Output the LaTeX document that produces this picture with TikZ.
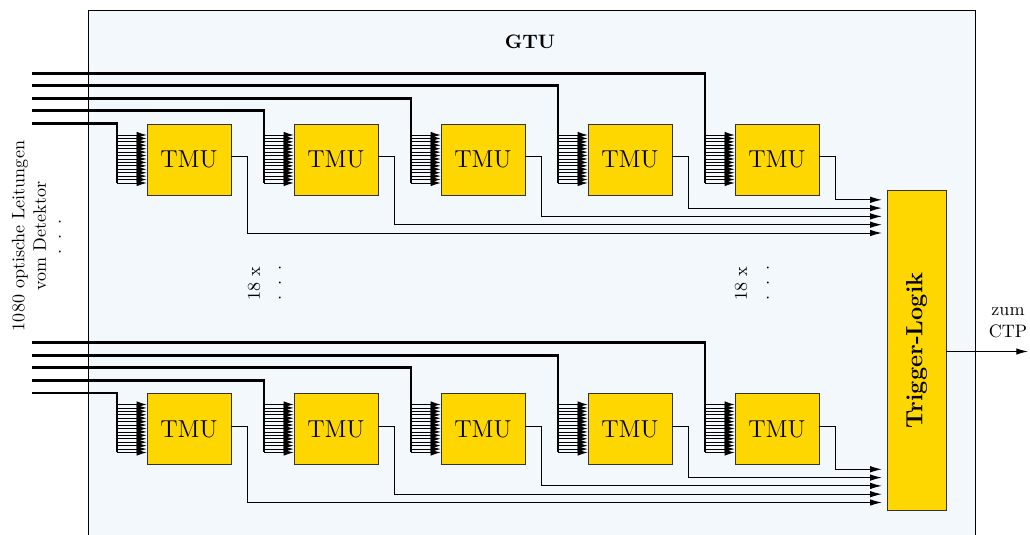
\documentclass[tikz,border=0pt]{standalone}
\usetikzlibrary{arrows.meta}
\newdimen\pxu \pxu=0.555pt
\definecolor{gtublue}{HTML}{F3F8FC}
\definecolor{tmugold}{HTML}{FFD700}
\tikzset{
  gtubox/.style={draw=black, line width=0.6pt, fill=gtublue, inner sep=0pt},
  tmubox/.style={draw=black!80, line width=0.5pt, fill=tmugold, inner sep=0pt,
    minimum width=84\pxu, minimum height=71\pxu, font=\fontsize{13.6}{16}\selectfont},
  trigbox/.style={draw=black!80, line width=0.5pt, fill=tmugold, inner sep=0pt,
    minimum width=59\pxu, minimum height=320\pxu},
  fibre/.style={line width=1.6pt, line join=miter},
  fan/.style={line width=0.45pt, -{Latex[length=5.5pt,width=3.6pt]}},
  outline/.style={line width=0.55pt, -{Latex[length=6.5pt,width=3.6pt]}, shorten >=2.6pt},
  ctpline/.style={line width=0.55pt, -{Latex[length=6.5pt,width=3.6pt]}},
  note/.style={inner sep=0pt, align=center}
}
\begin{document}
\begin{tikzpicture}[x=0.555pt, y={(0,-0.555pt)}]
\useasboundingbox (0,0) rectangle (1030,535);
\clip (0,0) rectangle (1030,535);

% GTU frame
\node[gtubox, anchor=north west, minimum width=887\pxu, minimum height=545\pxu] (gtu) at (88,10) {};
\node[note, font=\fontsize{10.8}{13}\selectfont\bfseries] (gtulabel) at (530,42) {GTU};

% Trigger logic
\node[trigbox] (trig) at (916.5,350.5) {};
\node[note, rotate=90, font=\fontsize{13}{16}\selectfont\bfseries] (triglabel) at (trig.center) {Trigger-Logik};
\coordinate (ctp) at (1028,351.5);
\draw[ctpline] (trig.east |- ctp) -- (ctp);
\node[note] (ctplabel) at (1008,323) {zum\\CTP};

% two rows of five TMUs
\foreach \r/\yo in {0/0,1/269.5} {
  \foreach \c in {0,...,4} {
    \pgfmathsetmacro{\xl}{147+147*\c}
    \pgfmathsetmacro{\xv}{\xl-30}
    \pgfmathsetmacro{\xo}{\xl+84+16}
    \pgfmathsetmacro{\yin}{123.5-12.6*\c+\yo}
    \pgfmathsetmacro{\yout}{233-8.3*\c+\yo}
    \pgfmathsetmacro{\yc}{159.5+\yo}
    \pgfmathsetmacro{\yfb}{183+\yo}
    \node[tmubox] (tmu-\r-\c) at (\xl+42,\yc) {TMU};
    % optical fibre bundle entering the TMU
    \coordinate (in-\r-\c) at (32,\yin);
    \draw[fibre] (in-\r-\c) -| (\xv,\yfb);
    \foreach \i in {0,...,14} {
      \pgfmathsetmacro{\yy}{135+\i*48/14+\yo}
      \draw[fan] (\xv,\yy) -- (tmu-\r-\c.west |- 0,\yy);
    }
    % TMU result to trigger logic
    \draw[outline] ([yshift=1.4pt]tmu-\r-\c.east) -| (\xo,\yout) -- (trig.west |- 0,\yout);
  }
}

% annotations
\node[note, rotate=90] (detlabel) at (29,236) {1080 optische Leitungen\\vom Detektor};
\node[note, rotate=90] (detdots) at (60,237) {.\hspace{5.8pt}.\hspace{5.8pt}.};
\node[note, rotate=90] (rep-a) at (254,284) {18 x};
\node[note, rotate=90] (repdots-a) at (280,283) {.\hspace{5.8pt}.\hspace{5.8pt}.};
\node[note, rotate=90] (rep-b) at (741,284) {18 x};
\node[note, rotate=90] (repdots-b) at (768,283) {.\hspace{5.8pt}.\hspace{5.8pt}.};
\end{tikzpicture}
\end{document}
